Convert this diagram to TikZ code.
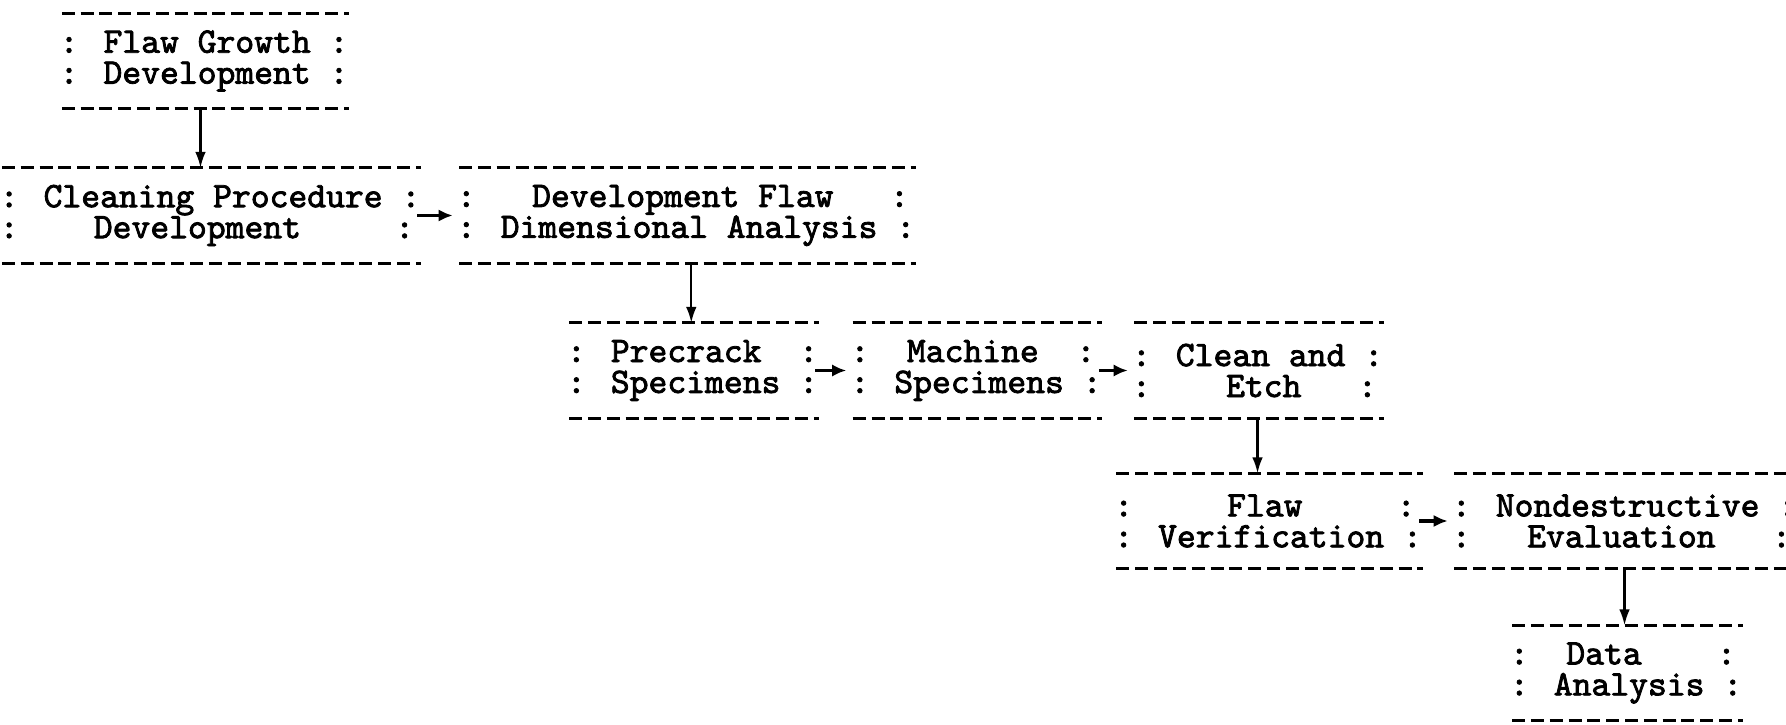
\documentclass[tikz,border=0pt]{standalone}
\usepackage{fontspec}
\newfontfamily\typedfont[Extension=.otf, FakeBold=2.2]{lmmono10-regular}
\usetikzlibrary{arrows.meta}

\tikzset{
	flowbox/.style={inner xsep=0pt, inner ysep=0pt, minimum height=0.94cm, align=left,
		font=\typedfont\fontsize{10.2pt}{8.8pt}\selectfont},
	dashrule/.style={line width=0.9pt, dash pattern=on 3.7pt off 1.65pt, dash phase=4.52pt},
	downarrow/.style={line width=0.6pt, -{Latex[length=4.5pt,width=3pt]}},
	rightarrow/.style={line width=1.1pt, -{Latex[length=4pt,width=3.5pt]}, shorten >=1pt}
}

\begin{document}
\begin{tikzpicture}[x=0.01cm, y=-0.01cm]
			\fill[white] (0,0) rectangle (1786,725);
			\useasboundingbox (0,0) rectangle (1786,725);

			\node[flowbox] (growth) at (204,61) {: Flaw Growth :\\: Development :};
			\node[flowbox] (cleaning) at (210,215.5) {: Cleaning Procedure :\\:~~~~Development~~~~~:};
			\node[flowbox] (dimflaw) at (686,215.5) {:~~~Development Flaw~~~:\\: Dimensional Analysis :};
			\node[flowbox] (precrack) at (692.5,370.5) {: Precrack~~:\\: Specimens :};
			\node[flowbox] (machine) at (976,370.5) {:~~Machine~~:\\: Specimens :};
			\node[flowbox] (etch) at (1257.5,370.5) {: Clean and :\\:~~~~Etch~~~:};
			\node[flowbox] (verify) at (1268,521) {:~~~~~Flaw~~~~~:\\: Verification :};
			\node[flowbox] (nde) at (1624.5,521) {: Nondestructive :\\:~~~Evaluation~~~:};
			\node[flowbox] (analysis) at (1626,673) {:~~Data~~~~:\\: Analysis :};

			\foreach \b in {growth,cleaning,dimflaw,precrack,machine,etch,verify,nde,analysis}
			{
				\draw[dashrule] (\b.north west) -- (\b.north east);
				\draw[dashrule] (\b.south west) -- (\b.south east);
			}

			\draw[downarrow] ([xshift=-1pt]growth.south) -- ([xshift=-1pt]growth.south |- cleaning.north);
			\draw[rightarrow] ([xshift=-1pt]cleaning.east) -- (dimflaw.west);
			\draw[downarrow] ([xshift=1.5pt]dimflaw.south) -- ([xshift=1.5pt]dimflaw.south |- precrack.north);
			\draw[rightarrow] ([xshift=-1pt]precrack.east) -- (machine.west);
			\draw[rightarrow] ([xshift=-1pt]machine.east) -- (etch.west);
			\draw[downarrow] (etch.south) -- (etch.south |- verify.north);
			\draw[rightarrow] ([xshift=-1pt]verify.east) -- (nde.west);
			\draw[downarrow] (nde.south) -- (nde.south |- analysis.north);
		\end{tikzpicture}
\end{document}
